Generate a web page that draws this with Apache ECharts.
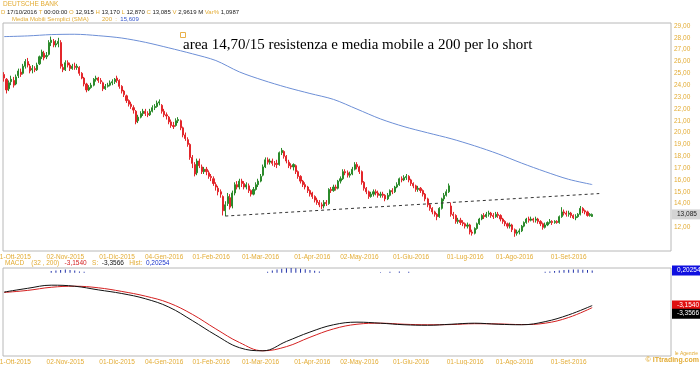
<!DOCTYPE html>
<html><head><meta charset="utf-8">
<script src="https://cdn.jsdelivr.net/npm/echarts@6/dist/echarts.min.js"></script>
<style>html,body{margin:0;padding:0;background:#fff}#c{width:700px;height:365px}</style>
</head><body><div id="c"></div>
<script>
// ---- data ----
const totalSlots = 284;
const tickIndex = [4, 26, 48, 68, 88, 109, 131, 151, 173, 196, 217, 240];
const tickLabels = ['01-Ott-2015','02-Nov-2015','01-Dic-2015','04-Gen-2016','01-Feb-2016','01-Mar-2016','01-Apr-2016','02-May-2016','01-Giu-2016','01-Lug-2016','01-Ago-2016','01-Set-2016'];
// [open, close, low, high]
const ohlc = [
[24.9,24.6,24.3,25.1],[24.5,23.6,23.3,24.6],[23.7,24.2,23.5,24.4],[24.3,24.5,24.0,24.8],[24.4,24.0,23.8,24.7],
[24.1,24.7,24.0,24.9],[24.8,25.2,24.6,25.4],[25.1,24.9,24.7,25.4],[25.0,25.6,24.9,25.8],[25.6,26.0,25.4,26.2],
[26.0,25.7,25.5,26.3],[25.6,25.2,25.0,25.8],[25.3,25.4,25.0,25.7],[25.4,25.3,25.1,25.6],[25.3,25.7,25.2,25.9],
[25.8,26.4,25.7,26.5],[26.4,26.8,26.2,27.0],[26.7,26.3,26.1,26.9],[26.4,26.5,26.2,26.8],[26.6,27.6,26.5,27.8],
[27.6,27.8,27.3,28.1],[27.7,27.4,27.2,27.9],[27.4,27.5,27.2,27.8],[27.5,27.7,27.2,28.0],[27.6,25.6,25.4,27.8],
[25.5,25.3,25.1,25.8],[25.3,25.9,25.2,26.1],[25.9,25.7,25.5,26.1],[25.7,25.4,25.2,25.9],[25.4,25.6,25.3,25.8],
[25.6,25.5,25.3,25.9],[25.5,25.6,25.3,25.8],[25.5,25.0,24.8,25.6],[25.0,24.6,24.5,25.1],[24.6,24.1,23.9,24.7],
[24.1,23.6,23.4,24.2],[23.6,23.8,23.5,24.0],[23.8,24.0,23.7,24.2],[24.0,24.5,23.9,24.6],[24.5,24.6,24.3,24.8],
[24.6,24.4,24.2,24.7],[24.4,24.3,24.1,24.6],[24.2,23.7,23.5,24.3],[23.7,23.9,23.6,24.1],[23.9,24.0,23.8,24.2],
[24.0,24.2,23.9,24.4],[24.2,24.3,24.0,24.5],[24.3,24.5,24.1,24.6],[24.6,24.4,24.2,24.8],[24.4,23.9,23.7,24.5],
[23.9,23.5,23.3,24.0],[23.5,23.2,23.0,23.6],[23.1,22.7,22.5,23.2],[22.7,22.4,22.2,22.8],[22.4,22.2,22.0,22.6],
[22.1,21.9,21.6,22.3],[21.8,20.9,20.7,21.9],[21.0,21.3,20.8,21.5],[21.3,21.6,21.2,21.8],[21.6,21.8,21.4,22.0],
[21.8,21.6,21.4,22.0],[21.6,21.5,21.3,21.8],[21.5,21.8,21.4,22.0],[21.8,22.1,21.7,22.3],[22.1,22.2,21.9,22.4],
[22.2,22.5,22.1,22.7],[22.5,22.6,22.3,22.8],[22.3,21.8,21.6,22.4],[21.8,21.5,21.3,22.0],[21.5,21.4,21.1,21.7],
[21.3,20.9,20.7,21.4],[20.9,20.6,20.4,21.1],[20.6,20.5,20.3,20.9],[20.6,21.0,20.5,21.2],[21.0,21.1,20.8,21.3],
[21.0,20.4,20.2,21.1],[20.4,19.8,19.6,20.5],[19.8,19.5,19.3,20.0],[19.4,19.0,18.8,19.6],[19.0,17.9,17.7,19.1],
[17.9,17.4,17.0,18.1],[17.3,16.5,16.3,17.5],[16.6,17.6,16.4,17.8],[17.6,17.2,17.0,17.8],[17.1,16.7,16.5,17.3],
[16.7,16.9,16.5,17.1],[16.9,16.7,16.4,17.1],[16.6,16.3,16.1,16.8],[16.3,16.2,15.9,16.5],[16.1,15.7,15.5,16.3],
[15.6,15.4,15.1,15.8],[15.3,15.0,14.7,15.5],[15.0,14.8,14.5,15.2],[14.6,13.4,13.0,14.7],[13.4,13.9,12.95,14.2],
[14.0,14.6,13.8,14.9],[14.5,13.7,13.5,14.8],[13.8,14.9,13.6,15.1],[14.9,15.6,14.7,15.8],[15.6,15.4,15.2,15.9],
[15.4,15.9,15.2,16.1],[15.9,15.7,15.4,16.1],[15.7,15.4,15.2,15.9],[15.4,15.6,15.2,15.8],[15.5,15.1,14.9,15.7],
[15.1,14.8,14.6,15.2],[14.8,15.2,14.7,15.4],[15.2,15.6,15.1,15.8],[15.6,15.9,15.4,16.1],[15.9,16.3,15.8,16.5],
[16.4,17.1,16.3,17.3],[17.1,17.7,17.0,17.9],[17.7,17.5,17.3,17.9],[17.5,17.6,17.3,17.8],[17.6,17.4,17.2,17.8],
[17.4,17.3,17.1,17.6],[17.4,17.3,17.0,17.7],[17.3,18.3,17.2,18.4],[18.3,18.5,18.1,18.7],[18.4,18.0,17.8,18.5],
[18.0,17.6,17.4,18.1],[17.5,17.2,17.0,17.7],[17.2,17.1,16.9,17.4],[17.1,17.3,16.8,17.4],[17.2,16.7,16.5,17.3],
[16.7,16.3,16.1,16.8],[16.3,15.9,15.7,16.4],[15.9,15.6,15.4,16.0],[15.6,15.4,15.2,15.8],[15.4,15.1,14.9,15.5],
[15.1,14.8,14.6,15.2],[14.9,14.6,14.4,15.0],[14.6,14.3,14.1,14.7],[14.3,14.1,13.9,14.5],[14.1,13.9,13.7,14.3],
[13.9,13.8,13.55,14.1],[13.8,14.1,13.6,14.3],[14.1,14.0,13.8,14.3],[14.0,15.2,13.9,15.3],[15.2,15.1,14.9,15.4],
[15.1,15.4,15.0,15.6],[15.4,15.3,15.1,15.6],[15.3,15.9,15.2,16.0],[15.9,16.1,15.7,16.3],[16.1,16.7,16.0,16.9],
[16.7,16.6,16.4,16.9],[16.6,16.4,16.2,16.8],[16.4,16.5,16.2,16.7],[16.5,16.9,16.4,17.1],[16.9,17.3,16.8,17.5],
[17.3,17.1,16.9,17.5],[17.1,16.7,16.5,17.2],[16.7,15.8,15.6,16.8],[15.8,15.3,15.1,15.9],[15.3,15.0,14.8,15.4],
[15.0,14.6,14.4,15.1],[14.6,14.8,14.5,15.0],[14.8,15.0,14.6,15.2],[15.0,14.9,14.7,15.2],[14.9,14.7,14.5,15.1],
[14.7,14.8,14.5,15.0],[14.8,14.7,14.5,15.0],[14.7,14.4,14.2,14.8],[14.4,14.7,14.3,14.9],[14.7,15.1,14.6,15.2],
[15.1,15.0,14.8,15.3],[15.0,15.4,14.9,15.5],[15.4,15.6,15.3,15.8],[15.6,16.1,15.5,16.2],[16.1,16.0,15.8,16.3],
[16.0,16.2,15.9,16.4],[16.2,16.3,16.0,16.5],[16.3,16.0,15.8,16.4],[16.0,15.7,15.5,16.1],[15.7,15.5,15.3,15.8],
[15.5,15.2,15.0,15.6],[15.2,15.3,15.0,15.5],[15.3,15.1,14.9,15.4],[15.1,14.8,14.6,15.2],[14.8,14.4,14.2,14.9],
[14.4,13.9,13.7,14.5],[13.9,13.6,13.4,14.0],[13.6,13.3,13.1,13.7],[13.3,13.1,12.9,13.4],[13.1,12.9,12.6,13.2],
[12.9,13.6,12.8,13.7],[13.6,14.4,13.5,14.5],[14.4,14.7,14.2,14.9],[14.7,15.0,14.6,15.2],[15.0,15.5,14.9,15.7],
[13.8,13.1,12.9,14.1],[13.1,13.0,12.7,13.3],[13.0,12.5,12.3,13.1],[12.5,12.6,12.3,12.8],[12.6,12.4,12.2,12.8],
[12.4,12.3,12.1,12.6],[12.3,12.1,11.9,12.4],[12.1,12.2,11.9,12.4],[12.2,11.6,11.4,12.3],[11.6,11.5,11.3,11.8],
[11.5,11.9,11.4,12.0],[11.9,12.3,11.8,12.4],[12.3,12.7,12.2,12.8],[12.7,13.0,12.6,13.1],[13.0,12.9,12.7,13.2],
[12.9,13.1,12.8,13.3],[13.1,13.2,12.9,13.4],[13.2,13.0,12.8,13.3],[13.0,12.9,12.7,13.2],[12.9,13.1,12.8,13.3],
[13.1,13.0,12.8,13.3],[13.0,12.7,12.5,13.1],[12.7,12.5,12.3,12.8],[12.5,12.3,12.1,12.6],[12.3,12.1,11.9,12.4],
[12.1,12.2,11.9,12.4],[12.2,11.8,11.6,12.3],[11.8,11.5,11.2,11.9],[11.5,11.6,11.3,11.8],[11.6,11.7,11.4,11.9],
[11.7,12.1,11.6,12.2],[12.1,12.4,12.0,12.5],[12.4,12.7,12.3,12.8],[12.7,12.6,12.4,12.9],[12.6,12.7,12.5,12.9],
[12.7,12.6,12.4,12.8],[12.6,12.7,12.4,12.9],[12.7,12.5,12.3,12.8],[12.5,12.3,12.1,12.6],[12.3,12.0,11.8,12.4],
[12.0,12.2,11.9,12.4],[12.2,12.4,12.1,12.5],[12.4,12.5,12.3,12.7],[12.5,12.4,12.2,12.6],[12.4,12.5,12.3,12.6],
[12.5,12.4,12.3,12.6],[12.4,12.9,12.3,13.0],[12.9,13.3,12.8,13.7],[13.3,13.2,13.0,13.5],[13.2,13.1,12.9,13.4],
[13.1,13.2,12.9,13.4],[13.2,13.0,12.8,13.3],[13.0,12.8,12.7,13.1],[12.8,12.9,12.6,13.1],[12.9,13.1,12.8,13.2],
[13.1,13.6,13.0,13.8],[13.6,13.4,13.2,13.7],[13.4,13.3,13.1,13.5],[13.3,13.0,12.9,13.4],[13.0,13.1,12.9,13.2],
[12.915,13.085,12.87,13.17]
];
// SMA 200, [slot, value]
const sma200 = [[0,28.10],[10,28.16],[20,28.27],[30,28.30],[40,28.18],[50,27.98],[60,27.62],[70,27.15],[80,26.65],[90,26.08],
[100,25.12],[110,24.42],[120,23.82],[130,23.30],[140,22.80],[150,21.98],[160,21.15],[170,20.50],[180,19.98],[190,19.48],
[200,18.88],[210,18.20],[220,17.42],[230,16.70],[240,16.05],[250,15.61]];
const supportLine = [[94,12.95],[253,14.85]];
const lastClose = 13.085;
const macdLine = [[0,-1.86],[10,-1.5],[20,-1.2],[30,-1.3],[40,-1.65],[50,-2.0],[60,-2.5],[70,-3.3],[80,-4.6],[90,-6.0],
[100,-7.2],[110,-7.5],[120,-6.6],[130,-5.7],[140,-5.0],[150,-4.75],[160,-4.85],[170,-5.0],[180,-5.05],[190,-4.95],
[200,-4.85],[210,-4.95],[220,-5.0],[230,-4.7],[240,-4.05],[250,-3.154]];
const signalLine = [[0,-1.9],[10,-1.7],[20,-1.4],[30,-1.3],[40,-1.45],[50,-1.8],[60,-2.25],[70,-2.9],[80,-4.0],[90,-5.4],
[100,-6.7],[110,-7.5],[120,-7.1],[130,-6.2],[140,-5.4],[150,-4.95],[160,-4.85],[170,-4.95],[180,-5.0],[190,-4.98],
[200,-4.9],[210,-4.92],[220,-4.98],[230,-4.85],[240,-4.3],[250,-3.3566]];
const histBars = [[20,0.15],[22,0.2],[24,0.25],[26,0.3],[28,0.25],[30,0.2],[32,0.12],[34,0.08],
[112,0.1],[114,0.2],[116,0.3],[118,0.38],[120,0.42],[122,0.45],[124,0.42],[126,0.38],[128,0.32],[130,0.25],[132,0.18],[134,0.12],
[160,0.05],[164,0.1],[168,0.12],[172,0.08],
[230,0.08],[232,0.12],[234,0.15],[236,0.2],[238,0.25],[240,0.28],[242,0.3],[244,0.3],[246,0.28],[248,0.25],[250,0.2025]];
const macdValues = {macd: -3.1540, signal: -3.3566, hist: 0.20254};

// ---- build ----
const cats = [];
for (let i = 0; i < totalSlots; i++) cats.push('');
tickIndex.forEach((k, j) => { cats[k] = tickLabels[j]; });

const GOLD = '#e3ac35';
const F = 'Liberation Sans, Arial, sans-serif';
const comma = (v, d) => v.toFixed(d).replace('.', ',');
const CLEAR = 'rgba(0,0,0,0)';
const boxLabel = (text, fg, bg, extra) => Object.assign({show: true, position: 'end', distance: 1, formatter: text,
  color: fg, backgroundColor: bg, padding: [2, 5, 1, 5], fontSize: 6.5, fontFamily: F}, extra || {});

const chart = echarts.init(document.getElementById('c'), null, {renderer: 'canvas'});
const xBase = {
  type: 'category', data: cats, boundaryGap: true,
  axisLine: {show: false}, axisTick: {show: false}, splitLine: {show: false},
  axisLabel: {interval: 0, color: GOLD, fontSize: 6.5, fontFamily: F, margin: 3, hideOverlap: false}
};
chart.setOption({
  animation: false,
  grid: [
    {left: 3, top: 23, width: 668, height: 228, show: true, borderColor: '#b8b8b8', borderWidth: 1, containLabel: false, outerBoundsMode: 'none'},
    {left: 3, top: 268, width: 668, height: 88, show: true, borderColor: '#b8b8b8', borderWidth: 1, containLabel: false, outerBoundsMode: 'none'}
  ],
  xAxis: [Object.assign({gridIndex: 0}, xBase), Object.assign({gridIndex: 1}, xBase)],
  yAxis: [
    {gridIndex: 0, position: 'right', min: 10, max: 29.25, interval: 1,
     axisLine: {show: false}, axisTick: {show: false}, splitLine: {show: false},
     axisLabel: {color: GOLD, fontSize: 6.5, fontFamily: F, margin: 3, showMaxLabel: false,
       formatter: v => (v < 12 || v === 13 || v > 29) ? '' : comma(v, 2)}},
    {gridIndex: 1, position: 'right', min: -8, max: 0.45,
     axisLine: {show: false}, axisTick: {show: false}, splitLine: {show: false}, axisLabel: {show: false}}
  ],
  series: [
    {type: 'candlestick', xAxisIndex: 0, yAxisIndex: 0, data: ohlc, barWidth: 1.6, z: 3,
     itemStyle: {color: '#2b8a2b', color0: '#e3262b', borderColor: '#2b8a2b', borderColor0: '#e3262b', borderWidth: 1},
     markLine: {silent: true, symbol: 'none', animation: false, label: {show: false},
       data: [
         [{coord: [supportLine[0][0], supportLine[0][1]], lineStyle: {color: '#333', type: [3, 3], width: 1}},
          {coord: [supportLine[1][0], supportLine[1][1]]}]
       ]}},
    {type: 'line', xAxisIndex: 0, yAxisIndex: 0, data: sma200, symbol: 'none', smooth: 0.3,
     lineStyle: {color: '#6d8fd6', width: 1},
     markLine: {silent: true, symbol: 'none', animation: false,
       data: [{yAxis: lastClose, lineStyle: {color: CLEAR, width: 0}, label: boxLabel(comma(lastClose, 3), '#222', '#d4d4d4')}]}},
    {type: 'bar', xAxisIndex: 1, yAxisIndex: 1, data: histBars, barWidth: 1, itemStyle: {color: '#2233aa'},
     markLine: {silent: true, symbol: 'none', animation: false,
       data: [{yAxis: macdValues.hist, lineStyle: {color: CLEAR, width: 0}, label: boxLabel(comma(macdValues.hist, 5), '#fff', '#1010e0')}]}},
    {type: 'line', xAxisIndex: 1, yAxisIndex: 1, data: signalLine, symbol: 'none', smooth: 0.4,
     lineStyle: {color: '#d42020', width: 1},
     markLine: {silent: true, symbol: 'none', animation: false,
       data: [
         {yAxis: macdValues.macd, lineStyle: {color: CLEAR, width: 0}, label: boxLabel(comma(macdValues.macd, 4), '#fff', '#e01010')},
         {yAxis: macdValues.signal, lineStyle: {color: CLEAR, width: 0}, label: boxLabel(comma(macdValues.signal, 4), '#fff', '#000', {offset: [0, 6]})}
       ]}},
    {type: 'line', xAxisIndex: 1, yAxisIndex: 1, data: macdLine, symbol: 'none', smooth: 0.4,
     lineStyle: {color: '#111', width: 1}}
  ],
  graphic: [
    {type: 'text', left: 3, top: 1, style: {text: 'DEUTSCHE BANK', fill: GOLD, font: '6.5px ' + F}},
    {type: 'text', left: 1, top: 9, style: {
      text: '{g|D }{b|17/10/2016} {g|T }{b|00:00:00} {g|O }{b|12,915} {g|H }{b|13,170} {g|L }{b|12,870} {g|C }{b|13,085} {g|V }{b|2,9619 M} {g|Var% }{b|1,0987}',
      font: '6px ' + F,
      rich: {g: {fill: GOLD, font: '6px ' + F}, b: {fill: '#222', font: '6px ' + F}}}},
    {type: 'text', left: 12, top: 16, style: {
      text: '{g|Media Mobili Semplici (SMA)}        {g|200}  {g|:}  {u|15,609}',
      font: '6px ' + F,
      rich: {g: {fill: GOLD, font: '6px ' + F}, u: {fill: '#3355cc', font: '6px ' + F}}}},
    {type: 'text', left: 5, top: 260, style: {
      text: '{g|MACD}    {g|(32 , 200)}   {r|-3,1540}   {g|S:}  {k|-3,3566}   {g|Hist:}  {u|0,20254}',
      font: '6.5px ' + F,
      rich: {g: {fill: GOLD, font: '6.5px ' + F}, r: {fill: '#d42020', font: '6.5px ' + F}, k: {fill: '#111', font: '6.5px ' + F}, u: {fill: '#1a33cc', font: '6.5px ' + F}}}},
    {type: 'rect', shape: {x: 180.5, y: 32.5, width: 5, height: 5}, style: {fill: 'none', stroke: '#e8b04a', lineWidth: 1}},
    {type: 'text', left: 183, top: 38, style: {text: 'area 14,70/15 resistenza e media mobile a 200 per lo short', fill: '#000', font: '15px Liberation Serif, Times New Roman, serif'}},
    {type: 'text', right: 2, top: 351, style: {text: 'le Agenzie', fill: GOLD, font: '5px ' + F}},
    {type: 'text', right: 1, top: 357, style: {text: '© ITtrading.com', fill: GOLD, font: 'bold 7px ' + F}}
  ]
});
</script></body></html>
